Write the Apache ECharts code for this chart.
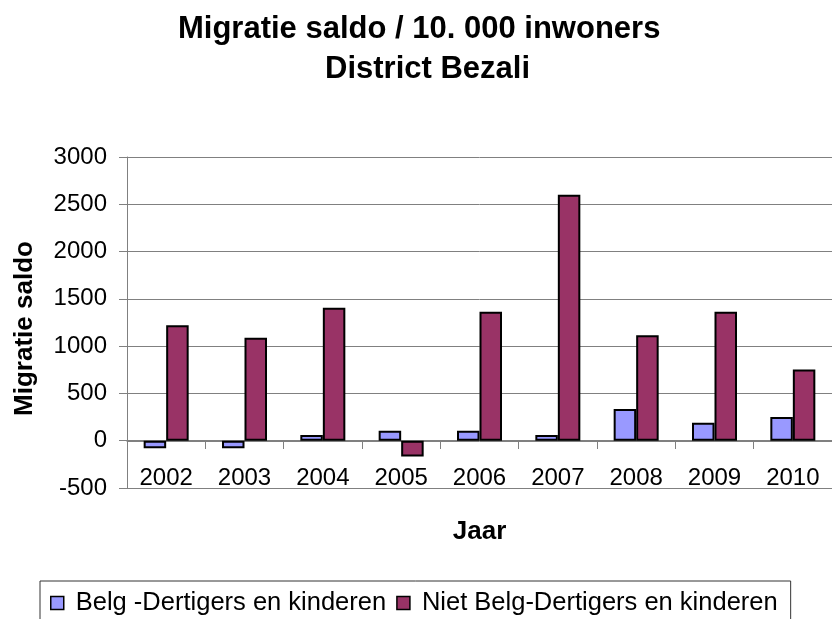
<!DOCTYPE html>
<html>
<head>
<meta charset="utf-8">
<script src="https://cdn.jsdelivr.net/npm/echarts@6/dist/echarts.min.js"></script>
<style>
html, body { margin: 0; padding: 0; background: #fff; }
#main { width: 832px; height: 619px; }
</style>
</head>
<body>
<div id="main"></div>
<script>
// jaren en migratiesaldo per 10.000 inwoners
var jaren = ['2002', '2003', '2004', '2005', '2006', '2007', '2008', '2009', '2010']
var belg = [-80, -80, 60, 105, 105, 60, 336, 189, 252]
var nietBelg = [1220, 1090, 1405, -168, 1363, 2601, 1116, 1363, 752]
var reeksNamen = ['Belg -Dertigers en kinderen', 'Niet Belg-Dertigers en kinderen']

var font = 'Liberation Sans, Arial, sans-serif'
var myChart = echarts.init(document.getElementById('main'))

var option = {
    animation: false,
    backgroundColor: '#fff',
    title: [{
        text: 'Migratie saldo / 10. 000 inwoners',
        left: 178,
        top: 14,
        padding: 0,
        textStyle: { fontFamily: font, fontSize: 31, fontWeight: 'bold', color: '#000' }
    }, {
        text: 'District Bezali',
        left: 325,
        top: 54,
        padding: 0,
        textStyle: { fontFamily: font, fontSize: 31, fontWeight: 'bold', color: '#000' }
    }],
    legend: {
        data: reeksNamen,
        left: 40,
        top: 581,
        padding: [9, 13, 30, 10],
        itemGap: 10,
        itemWidth: 13,
        itemHeight: 13,
        borderColor: '#333',
        borderWidth: 1,
        icon: 'rect',
        itemStyle: { borderColor: '#000', borderWidth: 1.5 },
        textStyle: { fontFamily: font, fontSize: 25.5, color: '#000', padding: [0, 0, 0, 7] }
    },
    grid: {
        left: 127,
        top: 157,
        width: 709,
        height: 331
    },
    xAxis: {
        type: 'category',
        data: jaren,
        position: 'bottom',
        offset: -47,
        name: 'Jaar',
        nameLocation: 'middle',
        nameGap: 78,
        nameTextStyle: { fontFamily: font, fontSize: 26, fontWeight: 'bold', color: '#000' },
        axisLine: { onZero: false, lineStyle: { color: '#808080', width: 1 } },
        axisTick: { show: true, length: 8, lineStyle: { color: '#808080' } },
        axisLabel: { fontFamily: font, fontSize: 24, color: '#000', margin: 25 }
    },
    yAxis: {
        type: 'value',
        min: -500,
        max: 3000,
        interval: 500,
        name: 'Migratie saldo',
        nameLocation: 'middle',
        nameRotate: 90,
        nameGap: 89,
        nameTextStyle: { fontFamily: font, fontSize: 26, fontWeight: 'bold', color: '#000', padding: [0, 12, 0, 0] },
        axisLine: { show: true, lineStyle: { color: '#808080', width: 1 } },
        axisTick: { show: true, length: 8, lineStyle: { color: '#808080' } },
        axisLabel: {
            fontFamily: font, fontSize: 24, color: '#000', margin: 20,
            formatter: function (v) { return String(v) }
        },
        splitLine: { show: true, lineStyle: { color: '#808080', width: 1 } }
    },
    series: [{
        name: reeksNamen[0],
        type: 'bar',
        data: belg,
        barWidth: 22.5,
        barGap: '0%',
        itemStyle: { color: '#9999FF', borderColor: '#000', borderWidth: 2 }
    }, {
        name: reeksNamen[1],
        type: 'bar',
        data: nietBelg,
        barWidth: 22.5,
        barGap: '0%',
        itemStyle: { color: '#993366', borderColor: '#000', borderWidth: 2 }
    }]
}

myChart.setOption(option)
</script>
</body>
</html>
